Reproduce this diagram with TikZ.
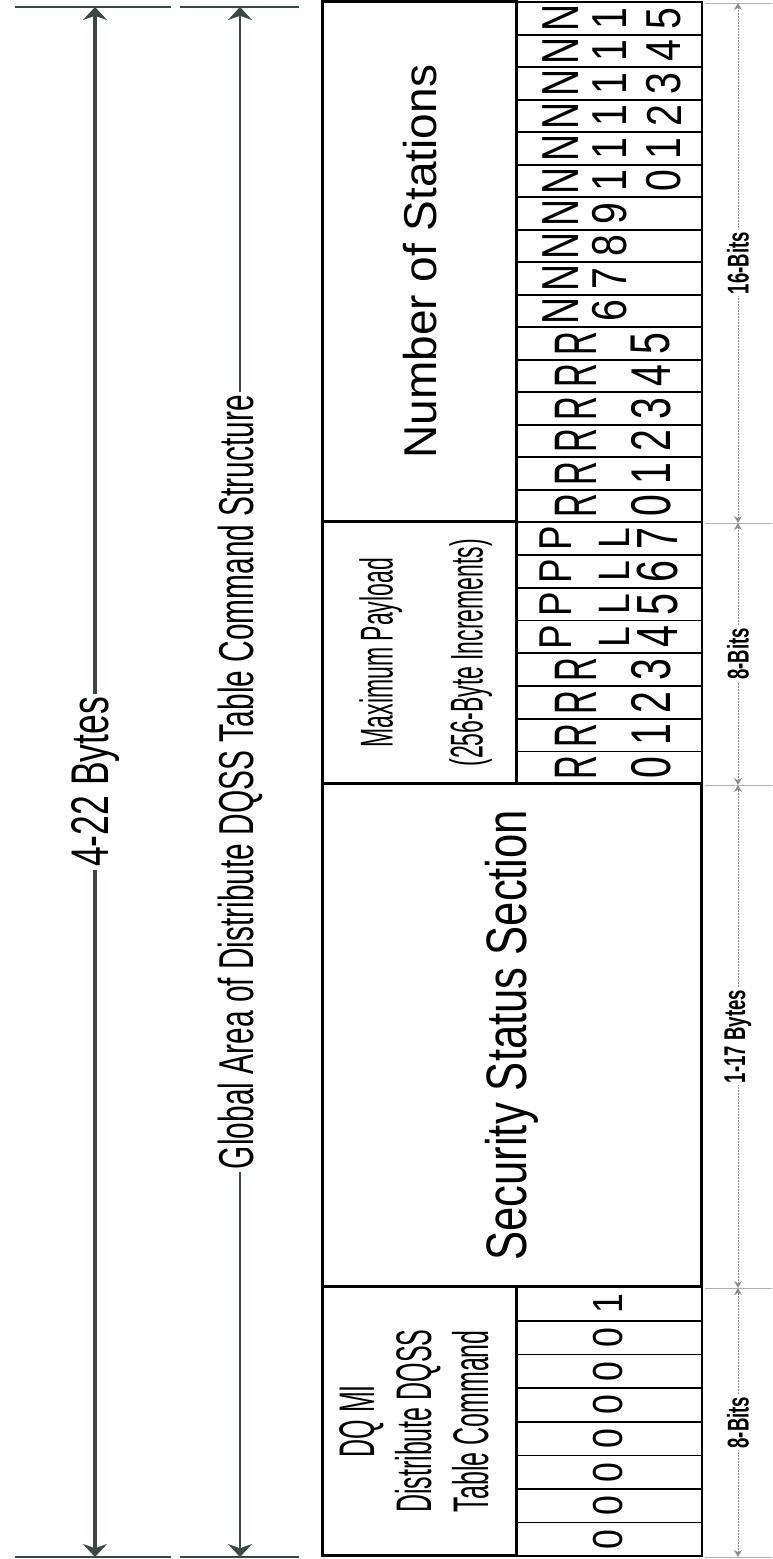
\documentclass[tikz,border=0pt]{standalone}
\usepackage{fontspec}
\setmainfont{Liberation Sans}
\usetikzlibrary{arrows.meta, calc}

\definecolor{slate}{RGB}{58,72,70}
\definecolor{dimgrey}{RGB}{140,140,140}

\newcommand{\fs}[1]{\fontsize{#1}{#1}\selectfont}
\newcommand{\narrow}[2]{\scalebox{#1}[1]{#2}}

\begin{document}
\begin{tikzpicture}[
  x=1pt, y=1pt,
  fieldbox/.style={draw, line width=2.6pt, anchor=south west, inner sep=0pt},
  bitcell/.style={draw, line width=1.6pt, anchor=south west, inner sep=0pt, minimum height=185},
  glyph/.style={inner sep=0pt, font=\fs{#1}},
  glyph/.default=50,
  bigspan/.style={{Stealth[length=13pt,width=24pt]}-{Stealth[length=13pt,width=24pt]}, draw=slate},
  extline/.style={draw=slate, line width=2.6pt},
  bitspan/.style={{Stealth[length=7pt,width=8pt]}-{Stealth[length=7pt,width=8pt]}, draw=dimgrey, line width=1pt, dash pattern=on 2pt off 1pt},
  sectick/.style={draw=dimgrey!70, line width=1pt},
  spanlabel/.style={fill=white, inner sep=3pt},
  bitlabel/.style={fill=white, inner sep=2pt, font=\fs{30}\bfseries}
]
\useasboundingbox (0,0) rectangle (772,-1559);

% the whole frame is laid out in landscape and turned upright
\begin{scope}[shift={(772,-1559)}, rotate=90, transform shape]

% --- DQ MI command byte ---
\node[fieldbox, minimum width=269, minimum height=194,
      font=\fontsize{50}{57}\selectfont] (dqmi) at (2,254)
  {\narrow{0.5}{\begin{tabular}{@{}c@{}}DQ MI\\Distribute DQSS\\Table Command\end{tabular}}};
\foreach \v [count=\i from 0] in {0,0,0,0,0,0,0,1} {
  \node[bitcell, minimum width=33.625] (dq\i) at ({2+\i*33.625},69) {};
  \node[glyph=42] (dqv\i) at ($(dq\i.south)+(0,95)$) {\narrow{0.85}{\v}};
}

% --- Security status section ---
\node[fieldbox, minimum width=503, minimum height=379, font=\fs{57}] (secstat) at (271,69)
  {\narrow{0.765}{Security Status Section}};

% --- Maximum payload byte ---
\node[fieldbox, minimum width=262, minimum height=194,
      font=\fontsize{46}{90}\selectfont] (maxpay) at (774,254)
  {\narrow{0.5}{\begin{tabular}{@{}c@{}}Maximum Payload\\(256-Byte Increments)\end{tabular}}};
\foreach \i in {0,...,7} {
  \node[bitcell, minimum width=32.75] (pl\i) at ({774+\i*32.75},69) {};
}
\foreach \i in {0,...,3} {
  \node[glyph=60] (plr\i) at ($(pl\i.south)+(0,127)$) {\narrow{0.55}{R}};
  \node[glyph=56] (pln\i) at ($(pl\i.south)+(0,52)$) {\narrow{0.7}{\i}};
}
\foreach \i in {4,...,7} {
  \node[glyph=46] (plp\i) at ($(pl\i.south)+(0,147)$) {\narrow{0.8}{P}};
  \node[glyph=44] (pll\i) at ($(pl\i.south)+(0,89)$) {\narrow{0.85}{L}};
  \node[glyph=58] (pln\i) at ($(pl\i.south)+(0,45)$) {\narrow{0.68}{\i}};
}

% --- Number of stations word ---
\node[fieldbox, minimum width=520, minimum height=194, font=\fs{46}] (nstat) at (1036,254)
  {Number of Stations};
\foreach \i in {0,...,15} {
  \node[bitcell, minimum width=32.5] (ns\i) at ({1036+\i*32.5},69) {};
}
\foreach \i in {0,...,5} {
  \node[glyph=60] (nsr\i) at ($(ns\i.south)+(0,127)$) {\narrow{0.55}{R}};
  \node[glyph=56] (nsn\i) at ($(ns\i.south)+(0,52)$) {\narrow{0.7}{\i}};
}
\foreach \i in {6,...,9} {
  \node[glyph=52] (nsr\i) at ($(ns\i.south)+(0,142)$) {\narrow{0.72}{N}};
  \node[glyph=49] (nsn\i) at ($(ns\i.south)+(0,93)$) {\narrow{0.8}{\i}};
}
\foreach \i [evaluate=\i as \j using int(\i-10)] in {10,...,15} {
  \node[glyph=52] (nsr\i) at ($(ns\i.south)+(0,142)$) {\narrow{0.72}{N}};
  \node[glyph=49] (nst\i) at ($(ns\i.south)+(0,93)$) {\narrow{0.8}{1}};
  \node[glyph=49] (nsn\i) at ($(ns\i.south)+(0,39)$) {\narrow{0.8}{\j}};
}

% --- Field widths ---
\foreach \a [count=\k from 0] in {2,271,774,1036,1556} {
  \coordinate (tk\k) at (\a,0);
  \coordinate (dm\k) at (\a,34);
  \draw[sectick] (tk\k) -- ++(0,67);
}
\draw[bitspan] (dm0) -- node[bitlabel] (wdq) {\narrow{0.62}{8-Bits}} (dm1);
\draw[bitspan] (dm1) -- node[bitlabel] (wsec) {\narrow{0.62}{1-17 Bytes}} (dm2);
\draw[bitspan] (dm2) -- node[bitlabel] (wpay) {\narrow{0.62}{8-Bits}} (dm3);
\draw[bitspan] (dm3) -- node[bitlabel] (wns) {\narrow{0.62}{16-Bits}} (dm4);

% --- Overall length ---
\coordinate (lo1) at (2,677);   \coordinate (hi1) at (1552,677);
\coordinate (lo2) at (2,532);   \coordinate (hi2) at (1552,532);
\draw[extline] (2,757) -- (2,601);   \draw[extline] (2,592) -- (2,473);
\draw[extline] (1552,757) -- (1552,601); \draw[extline] (1552,592) -- (1552,473);
\draw[bigspan, line width=3.2pt] (lo1) --
  node[spanlabel, font=\fs{53}] (totbytes) {\narrow{0.67}{4-22 Bytes}} (hi1);
\draw[bigspan, line width=2.6pt] (lo2) --
  node[spanlabel, font=\fs{49}] (globarea)
  {\narrow{0.61}{Global Area of Distribute DQSS Table Command Structure}} (hi2);

\end{scope}
\end{tikzpicture}
\end{document}
